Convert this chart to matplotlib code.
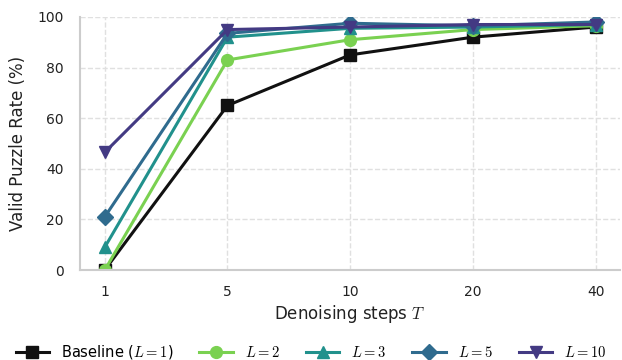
import matplotlib
matplotlib.use('Agg')
import matplotlib.pyplot as plt
import numpy as np

plt.rcParams['font.family'] = ['DejaVu Sans']
plt.rcParams['mathtext.fontset'] = 'cm'

# Data
steps = ['1', '5', '10', '20', '40']
baseline = [0, 65, 85, 92, 96]
l2 = [0, 83, 91, 95, 96.5]
l3 = [9, 92, 95.5, 96, 97]
l5 = [21, 93.5, 97.5, 96.5, 98]
l10 = [46.5, 95, 96, 97, 97]

series = [
    (baseline, r'Baseline ($L=1$)', '#111111', 's'),
    (l2, r'$L=2$', '#7ad151', 'o'),
    (l3, r'$L=3$', '#21918c', '^'),
    (l5, r'$L=5$', '#2f6b8e', 'D'),
    (l10, r'$L=10$', '#433a83', 'v'),
]

fig, ax = plt.subplots(figsize=(6.22, 3.6), dpi=100)
x = np.arange(len(steps))

for vals, lab, col, mk in series:
    ax.plot(x, vals, color=col, marker=mk, linewidth=2.2, markersize=8.5, label=lab)

ax.set_xticks(x)
ax.set_xticklabels(steps)
ax.set_xlim(-0.2, 4.2)
ax.set_ylim(0, 100)
ax.set_yticks([0, 20, 40, 60, 80, 100])
ax.set_xlabel(r'Denoising steps $T$', fontsize=12, color='#222222', labelpad=3)
ax.set_ylabel('Valid Puzzle Rate (%)', fontsize=12, color='#222222', labelpad=7)
ax.tick_params(axis='y', labelsize=10, colors='#222222', length=0, pad=12)
ax.tick_params(axis='x', labelsize=10, colors='#222222', length=0, pad=11)
ax.grid(True, linestyle='--', color='#e0e0e0', linewidth=1)
ax.set_axisbelow(True)
for s in ['top', 'right']:
    ax.spines[s].set_visible(False)
for s in ['left', 'bottom']:
    ax.spines[s].set_color('#cccccc')
    ax.spines[s].set_linewidth(1.5)

fig.legend(loc='lower center', ncol=5, frameon=False, fontsize=10.5,
           bbox_to_anchor=(0.5, -0.04), columnspacing=1.8, handlelength=2.3)
fig.subplots_adjust(left=0.129, right=0.997, top=0.953, bottom=0.25)
fig.savefig('out.png', dpi=100)
